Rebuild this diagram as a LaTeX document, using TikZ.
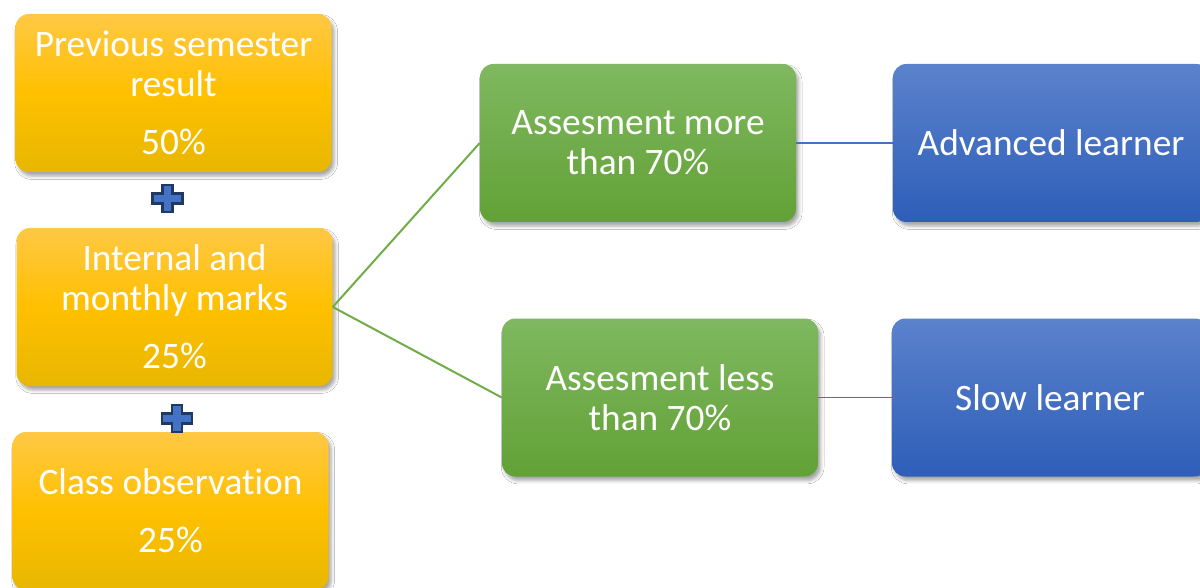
\documentclass[tikz,border=0pt]{standalone}
\usepackage{fontspec}
\setmainfont[Ligatures=NoCommon]{Carlito}
\usetikzlibrary{shadows.blur}
\definecolor{ytop}{HTML}{FFC845}
\definecolor{ymid}{HTML}{FFC000}
\definecolor{ybot}{HTML}{E8B700}
\definecolor{gtop}{HTML}{7FB860}
\definecolor{gbot}{HTML}{62A136}
\definecolor{btop}{HTML}{5B82CC}
\definecolor{bbot}{HTML}{2E5EB8}
\definecolor{gline}{HTML}{70AD47}
\definecolor{bline}{HTML}{4472C4}
\definecolor{plusfill}{HTML}{4472C4}
\definecolor{plusdraw}{HTML}{1F3864}
\begin{document}
\begin{tikzpicture}[x=0.75pt,y=-0.75pt,
  box/.style={rounded corners=10pt, minimum width=237pt, minimum height=118.5pt,
    align=center, text=white, font=\fontsize{28}{30}\selectfont, inner sep=0pt,
    blur shadow={shadow xshift=2pt, shadow yshift=-3pt, shadow blur radius=2.5pt, shadow opacity=35}},
  ybox/.style={box, top color=ytop, bottom color=ybot, middle color=ymid},
  gbox/.style={box, top color=gtop, bottom color=gbot},
  bbox/.style={box, top color=btop, bottom color=bbot},
  gconn/.style={draw=gline, line width=1.5pt},
  bconn/.style={draw=bline, line width=1.3pt},
  plussign/.pic={
    \draw[fill=plusfill, draw=plusdraw, line width=1.6pt, line join=miter]
      (-5,-13.5) -- (5,-13.5) -- (5,-5) -- (15,-5) -- (15,5) -- (5,5) -- (5,13.5)
      -- (-5,13.5) -- (-5,5) -- (-15,5) -- (-15,-5) -- (-5,-5) -- cycle;
  }
]
\useasboundingbox (0,0) rectangle (1200,588);
\clip (0,0) rectangle (1200,588);
\fill[white] (0,0) rectangle (1200,588);

\node[ybox] (prev) at (173.5,93) {Previous semester\\result\\[13.5pt]50\%};
\node[ybox] (intl) at (174.5,307) {Internal and\\monthly marks\\[13.5pt]25\%};
\node[ybox] (obs) at (170.5,511) {Class observation\\[13.5pt]25\%};

\pic at (167.5,198.5) {plussign};
\pic at (177,418.5) {plussign};

\node[gbox] (more) at (638,143) {Assesment more\\than 70\%};
\node[gbox] (less) at (660,397.5) {Assesment less\\than 70\%};

\node[bbox] (adv) at (1051,143) {Advanced learner};
\node[bbox] (slow) at (1050,397.5) {Slow learner};

\draw[gconn] (intl.east) -- (more.west);
\draw[gconn] (intl.east) -- (less.west);
\draw[bconn] (more.east) -- (adv.west);
\draw[bconn] (less.east) -- (slow.west);
\end{tikzpicture}
\end{document}
